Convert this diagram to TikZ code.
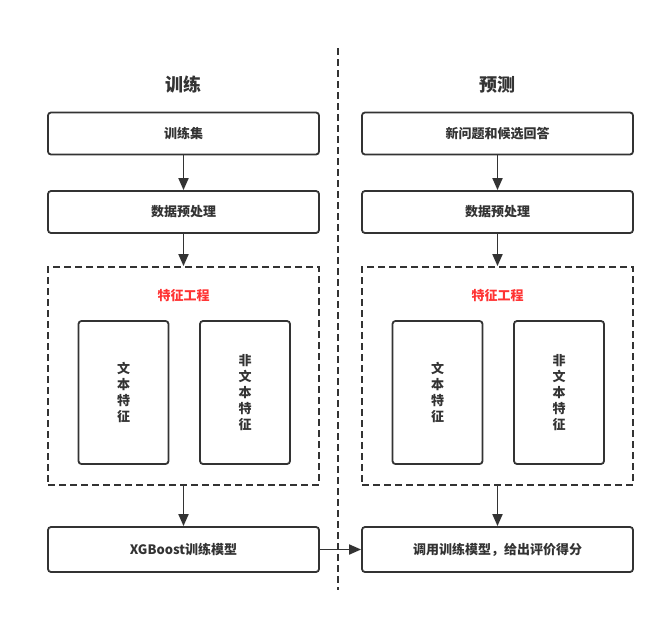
\documentclass[tikz,border=0pt]{standalone}
\usepackage{fontspec}
\setmainfont{Noto Sans CJK SC}
\usepackage{tikz}
\usetikzlibrary{arrows.meta}
\definecolor{ink}{HTML}{333333}
\definecolor{hot}{HTML}{FF3333}

\begin{document}
\begin{tikzpicture}[x=1pt, y=-1pt, line width=1.8pt, draw=ink,
    main/.style = {draw=ink, rounded corners=3pt, minimum width=271pt, minimum height=42pt, font=\bfseries\fontsize{13}{15}\selectfont, text=ink},
    feat/.style = {draw=ink, rounded corners=3pt, minimum width=90pt, minimum height=143pt, align=center, font=\bfseries\fontsize{13}{16}\selectfont, text=ink},
    zone/.style = {draw=ink, dash pattern=on 7pt off 4pt, minimum width=271pt, minimum height=218pt},
    title/.style = {font=\bfseries\fontsize{18}{21}\selectfont, text=ink},
    arr/.style = {-{Triangle[length=12pt, width=10pt]}, ink}]
    \useasboundingbox (0,0) rectangle (664,621);
    \draw[ink, dash pattern=on 7pt off 4pt] (338,48) -- (338,590);
    % training
    \node[title] (tt) at (183.5,85) {训练};
    \node[main] (t1) at (183.5,133.5) {训练集};
    \node[main] (t2) at (183.5,212) {数据预处理};
    \node[zone] (t3) at (183.5,376) {};
    \node[font=\bfseries\fontsize{13}{15}\selectfont, text=hot] (t3l) at (183.5,296) {特征工程};
    \node[feat] (t4) at (123.5,392.5) {文\\本\\特\\征};
    \node[feat] (t5) at (245,392.5) {非\\文\\本\\特\\征};
    \node[main, minimum height=45pt] (t6) at (183.5,549.5) {XGBoost训练模型};
    % prediction
    \node[title] (pt) at (497.5,85) {预测};
    \node[main] (p1) at (497.5,133.5) {新问题和候选回答};
    \node[main] (p2) at (497.5,212) {数据预处理};
    \node[zone] (p3) at (497.5,376) {};
    \node[font=\bfseries\fontsize{13}{15}\selectfont, text=hot] (p3l) at (497.5,296) {特征工程};
    \node[feat] (p4) at (437.5,392.5) {文\\本\\特\\征};
    \node[feat] (p5) at (559,392.5) {非\\文\\本\\特\\征};
    \node[main, minimum height=45pt] (p6) at (497.5,549.5) {调用训练模型，给出评价得分};
    \draw[arr] (t1) -- (t2);
    \draw[arr] (t2) -- (t3);
    \draw[arr] (t3) -- (t6);
    \draw[arr] (p1) -- (p2);
    \draw[arr] (p2) -- (p3);
    \draw[arr] (p3) -- (p6);
    \draw[arr] (t6) -- (p6);
  \end{tikzpicture}
\end{document}
